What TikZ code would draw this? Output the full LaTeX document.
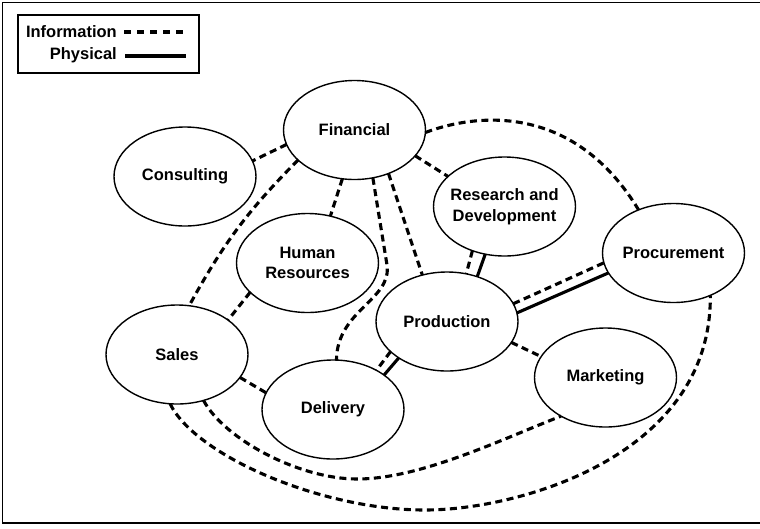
\documentclass[tikz,border=0pt]{standalone}
\usepackage{fontspec}
\setmainfont{Liberation Sans}
\usetikzlibrary{shapes.geometric}
\begin{document}
\begin{tikzpicture}[x=1pt,y=-1pt,
  ent/.style={ellipse,draw,line width=1.4pt,minimum width=142pt,minimum height=99pt,inner sep=0pt,outer sep=0pt},
  txt/.style={font=\fontsize{16.5}{20.5}\selectfont\bfseries,align=center,inner sep=0pt},
  info/.style={line width=3.1pt,dash pattern=on 7pt off 4.5pt},
  phys/.style={line width=3.1pt},
  lab/.style={font=\fontsize{16.5}{20}\selectfont\bfseries,inner sep=0pt,anchor=east}]
\useasboundingbox (0,0) rectangle (760,528);
\draw[line width=1.8pt] (2.5,2.5) rectangle (761,523);
% legend
\node[draw,line width=1.4pt,minimum width=181pt,minimum height=58pt,inner sep=0pt] (legend) at (108.5,44) {};
\node[lab] (linfo) at (117,32) {Information};
\node[lab] (lphys) at (117,55) {Physical};
\coordinate (i1) at (124,32);
\coordinate (i2) at (186,32);
\coordinate (p1) at (125,56);
\coordinate (p2) at (186,56);
\draw[line width=3.1pt,dash pattern=on 7pt off 6pt] (i1) -- (i2);
\draw[phys] (p1) -- (p2);
% nodes
\node[ent,label={[txt]center:Financial}] (fin) at (354.5,130) {};
\node[ent,label={[txt]center:Consulting}] (cons) at (185,176.5) {};
\node[ent,label={[txt]center:{Human\\Resources}}] (hr) at (307.5,263) {};
\node[ent,label={[txt]center:{Research and\\Development}}] (rd) at (504.5,206.5) {};
\node[ent,label={[txt]center:Procurement}] (proc) at (673.5,253) {};
\node[ent,label={[txt]center:Production}] (prod) at (447,321.5) {};
\node[ent,label={[txt]center:Sales}] (sales) at (177,354.5) {};
\node[ent,label={[txt]center:Delivery}] (deliv) at (333,409.5) {};
\node[ent,label={[txt]center:Marketing}] (mkt) at (605.5,377.5) {};
% connectors
\draw[info] (fin.192) -- (cons.13);
\draw[info] (fin.208) to[bend right=8] (sales.76);
\draw[info] (fin.256) -- (hr.64);
\draw[info] (fin.291) -- (387,265) .. controls (392,300) and (337,310) .. (deliv.86);
\draw[info] (fin.308) -- (prod.118);
\draw[info] (fin.337) -- (rd.152);
\draw[info] (fin.358) .. controls (480,112) and (575,105) .. (proc.129);
\draw[info] (rd.234) -- (prod.68);
\draw[phys] (rd.248) -- (prod.56);
\draw[info] (prod.15) -- (proc.188);
\draw[phys] (prod.7) -- (proc.197);
\draw[info] (prod.208) -- (deliv.42);
\draw[phys] (prod.217) -- (deliv.34);
\draw[info] (prod.342.5) -- (mkt.162.5);
\draw[info] (hr.207.6) -- (sales.34);
\draw[info] (sales.340) -- (deliv.166);
\draw[info] (sales.300) .. controls (225,440) and (300,479) .. (357,479) .. controls (420,479) and (500,440) .. (mkt.221);
\draw[info] (sales.262) .. controls (195,455) and (320,510) .. (425,510) .. controls (520,510) and (712,455) .. (proc.311);
\end{tikzpicture}
\end{document}
